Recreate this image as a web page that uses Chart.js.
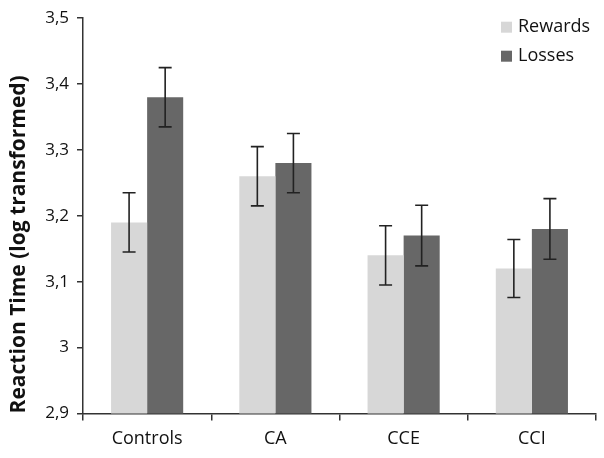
<!DOCTYPE html>
<html>
<head>
<meta charset="utf-8">
<script src="https://cdn.jsdelivr.net/npm/chart.js@4/dist/chart.umd.min.js"></script>
<style>
  html, body { margin: 0; padding: 0; background: #fff; }
  #wrap { width: 604px; height: 458px; position: relative; }
</style>
</head>
<body>
<div id="wrap"><canvas id="myChart"></canvas></div>
<script>
// data
var categories = ['Controls', 'CA', 'CCE', 'CCI'];
var rewards = [3.19, 3.26, 3.14, 3.12];
var losses = [3.38, 3.28, 3.17, 3.18];
var rewardsErr = [0.045, 0.045, 0.045, 0.044];
var lossesErr = [0.045, 0.045, 0.046, 0.046];
var yMin = 2.9, yMax = 3.5, yStep = 0.1;

var lightGrey = '#d7d7d7';
var darkGrey = '#676767';
var fontName = "'Open Sans', sans-serif";

function fmt(v) {
    var r = Math.round(v * 10) / 10;
    return String(r).replace('.', ',');
}

// error bars on top of each bar
var errorBars = {
    id: 'errorBars',
    afterDatasetsDraw: function(chart) {
        var ctx = chart.ctx;
        var y = chart.scales.y;
        var errs = [rewardsErr, lossesErr];
        ctx.save();
        ctx.strokeStyle = '#222';
        ctx.lineWidth = 1.6;
        chart.data.datasets.forEach(function(ds, i) {
            var meta = chart.getDatasetMeta(i);
            meta.data.forEach(function(bar, j) {
                var v = ds.data[j], e = errs[i][j];
                var top = y.getPixelForValue(v + e);
                var bot = y.getPixelForValue(v - e);
                ctx.beginPath();
                ctx.moveTo(bar.x, top); ctx.lineTo(bar.x, bot);
                ctx.moveTo(bar.x - 6.5, top); ctx.lineTo(bar.x + 6.5, top);
                ctx.moveTo(bar.x - 6.5, bot); ctx.lineTo(bar.x + 6.5, bot);
                ctx.stroke();
            });
        });
        ctx.restore();
    }
};

// legend in the top right corner of the plot
var cornerLegend = {
    id: 'cornerLegend',
    afterDraw: function(chart) {
        var ctx = chart.ctx;
        var area = chart.chartArea;
        var x0 = area.right - 95;
        var y0 = area.top + 9;
        ctx.save();
        ctx.font = '18px ' + fontName;
        ctx.textBaseline = 'middle';
        chart.data.datasets.forEach(function(ds, i) {
            var cy = y0 + i * 29;
            ctx.fillStyle = ds.backgroundColor;
            ctx.fillRect(x0, cy - 5.5, 11, 11);
            ctx.fillStyle = '#111';
            ctx.fillText(ds.label, x0 + 17, cy);
        });
        ctx.restore();
    }
};

var ctx = document.getElementById('myChart').getContext('2d');
var chart = new Chart(ctx, {
    type: 'bar',
    data: {
        labels: categories,
        datasets: [
            { label: 'Rewards', data: rewards, backgroundColor: lightGrey },
            { label: 'Losses', data: losses, backgroundColor: darkGrey }
        ]
    },
    options: {
        responsive: true,
        maintainAspectRatio: false,
        animation: false,
        categoryPercentage: 0.5625,
        barPercentage: 1,
        layout: { padding: { top: 16, right: 8, bottom: 0, left: 0 } },
        plugins: {
            legend: { display: false },
            tooltip: { enabled: false }
        },
        scales: {
            x: {
                grid: { display: true, drawOnChartArea: false, drawTicks: true, tickLength: 7, color: '#333', lineWidth: 1.5, offset: true },
                border: { display: true, color: '#333', width: 1.5 },
                ticks: { color: '#111', font: { family: fontName, size: 18 }, padding: 8 }
            },
            y: {
                min: yMin,
                max: yMax,
                afterFit: function(scale) { scale.width = 83; },
                grid: { display: true, drawOnChartArea: false, drawTicks: true, tickLength: 6, color: '#333', lineWidth: 1.5 },
                border: { display: true, color: '#333', width: 1.5 },
                ticks: {
                    stepSize: yStep,
                    color: '#111',
                    font: { family: fontName, size: 17 },
                    padding: 8,
                    callback: function(v) { return fmt(v); }
                },
                title: {
                    display: true,
                    text: 'Reaction Time (log transformed)',
                    align: 'start',
                    color: '#111',
                    font: { family: fontName, size: 21, weight: 'bold' },
                    padding: { top: 6, bottom: 0 }
                }
            }
        }
    },
    plugins: [errorBars, cornerLegend]
});
</script>
</body>
</html>
